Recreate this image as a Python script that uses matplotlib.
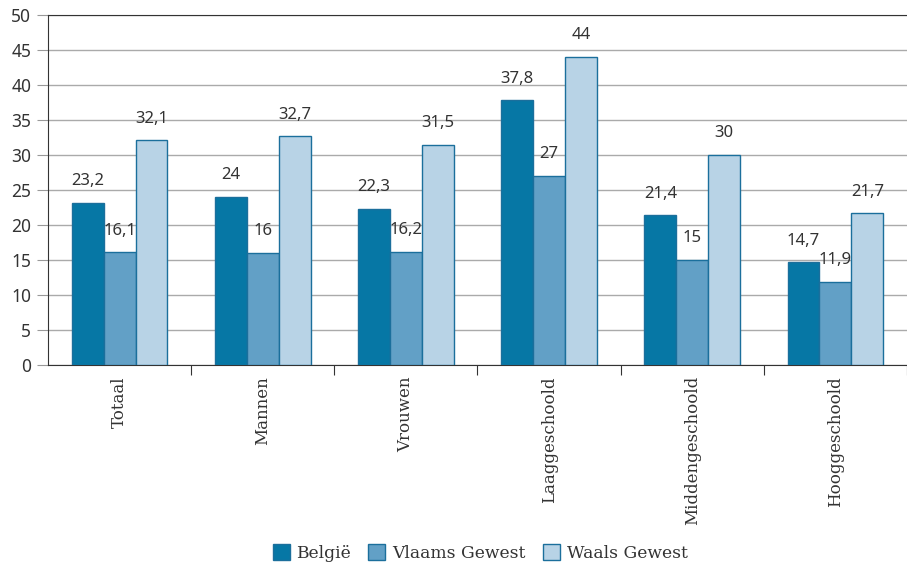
import matplotlib
matplotlib.use("Agg")
import matplotlib.pyplot as plt
import numpy as np

categories = ["Totaal", "Mannen", "Vrouwen", "Laaggeschoold", "Middengeschoold", "Hooggeschoold"]
belgie = [23.2, 24, 22.3, 37.8, 21.4, 14.7]
vlaams = [16.1, 16, 16.2, 27, 15, 11.9]
waals = [32.1, 32.7, 31.5, 44, 30, 21.7]
series_names = ["België", "Vlaams Gewest", "Waals Gewest"]
yticks = [0, 5, 10, 15, 20, 25, 30, 35, 40, 45, 50]

colors = ["#0677A5", "#62A0C6", "#B8D3E6"]
edge = "#1B6F9C"
txt = "#333333"

fig = plt.figure(figsize=(9.07, 5.63), dpi=100)
ax = fig.add_axes([48/907, 1-365/563, 1-48/907, 350/563])

x = np.arange(len(categories))
w = 0.223
for i, (vals, c, name) in enumerate(zip([belgie, vlaams, waals], colors, series_names)):
    pos = x + (i - 1) * w
    ax.bar(pos, vals, width=w, color=c, edgecolor=edge, linewidth=1.0, label=name, zorder=3)
    for p, v in zip(pos, vals):
        s = f"{v:g}".replace(".", ",")
        ax.annotate(s, (p, v), xytext=(0, 15.5), textcoords="offset points",
                    ha="center", va="center", fontsize=12, color=txt,
                    family="Noto Sans", zorder=4)

ax.set_ylim(0, 50)
ax.set_xlim(-0.5, 5.45)
ax.set_yticks(yticks)
ax.set_yticklabels([str(t) for t in yticks], family="Noto Sans", fontsize=12.5, color=txt)
ax.yaxis.grid(True, color="#AAAAAA", linewidth=1.0, zorder=0)
ax.set_axisbelow(True)

ax.set_xticks(x + 0.5, minor=False)
ax.set_xticklabels([])
ax.set_xticks(x, minor=True)
ax.set_xticklabels(categories, minor=True, rotation=90, family="DejaVu Serif",
                   fontsize=12, color=txt)
ax.tick_params(axis="x", which="minor", length=0, pad=8)
ax.tick_params(axis="x", which="major", length=7, direction="out", color="#333333")
ax.tick_params(axis="y", length=8, direction="out", color="#999999", pad=4)

ax.spines["right"].set_visible(False)
ax.spines["top"].set_color("#333333")
ax.spines["left"].set_color("#333333")
ax.spines["bottom"].set_color("#333333")

leg = fig.legend(loc="center", bbox_to_anchor=(480/907, 1-553/563), ncol=3, frameon=False,
                 prop={"family": "DejaVu Serif", "size": 12.3}, handlelength=1.0,
                 handleheight=1.0, handletextpad=0.4, columnspacing=1.0)
for t in leg.get_texts():
    t.set_color(txt)

fig.savefig("out.png", dpi=100)
